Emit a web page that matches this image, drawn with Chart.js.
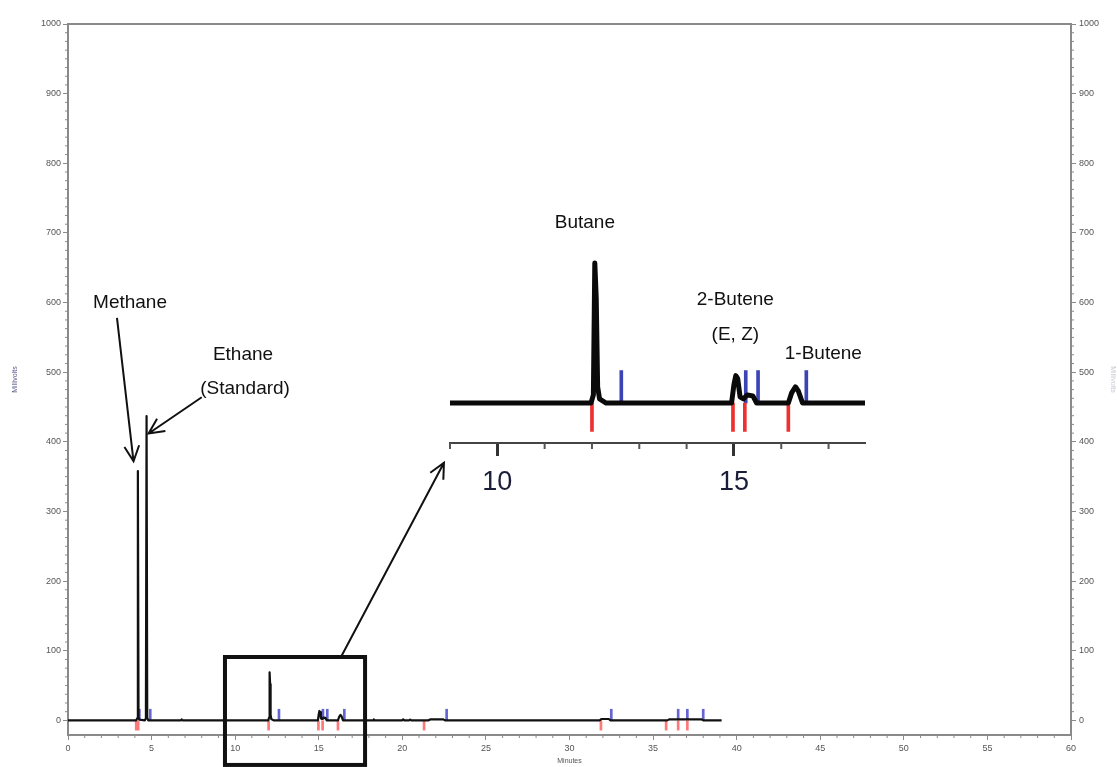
<!DOCTYPE html>
<html>
<head>
<meta charset="utf-8">
<title>Chromatogram</title>
<script src="https://cdn.jsdelivr.net/npm/chart.js@4.4.1/dist/chart.umd.min.js"></script>
<style>
  html, body { margin: 0; padding: 0; background: #fff; }
  #wrap { position: relative; width: 1117px; height: 767px; }
  #main { position: absolute; left: 0; top: 0; }
  #inset { position: absolute; left: 430px; top: 200px; }
</style>
</head>
<body>
<div id="wrap">
  <canvas id="main" width="1117" height="767"></canvas>
  <canvas id="inset" width="460" height="300"></canvas>
</div>
<script>
// signal trace (minutes, millivolts)
const traceMin = [0, 4.08, 4.14, 4.18, 4.22, 4.27, 4.6, 4.66, 4.7, 4.74, 4.8, 6.75, 6.8, 6.85,
  11.98, 12.03, 12.06, 12.09, 12.12, 12.16, 12.3, 14.95, 15.0, 15.04, 15.08, 15.13, 15.2, 15.28,
  15.4, 15.48, 16.15, 16.22, 16.3, 16.36, 16.45, 18.25, 18.3, 18.35, 19.98, 20.05, 20.12, 20.4,
  20.47, 20.54, 21.55, 21.7, 22.45, 22.55, 31.8, 31.92, 32.35, 32.45, 35.85, 35.98, 37.9, 38.0, 39.1];
const traceMv = [0, 0, 3, 358, 4, 1, 0, 3, 437, 4, 0, 0, 1.5, 0,
  0, 4, 69, 52, 8, 2, 0, 0, 9, 13.5, 12, 3, 2, 4,
  3.5, 0, 0, 5, 8, 6, 0, 0, 1.5, 0, 0, 1.5, 0, 0,
  1.2, 0, 0, 1.5, 1.5, 0, 0, 2, 2, 0, 0, 1.5, 1.5, 0, 0];

// integration event marks
const startMarks = [4.08, 4.2, 12.0, 14.98, 15.23, 16.15, 21.3, 31.88, 35.78, 36.5, 37.05];
const endMarks = [4.27, 4.92, 12.62, 15.25, 15.51, 16.53, 22.65, 32.5, 36.5, 37.05, 38.0];
const startDepth = [-14, 0];
const endHeight = [0, 16];

const xTicks = [0, 5, 10, 15, 20, 25, 30, 35, 40, 45, 50, 55, 60];
const yTicks = [0, 100, 200, 300, 400, 500, 600, 700, 800, 900, 1000];
const insetTicks = [10, 15];

const FONT = "'Liberation Sans', Arial, sans-serif";

const tracePts = traceMin.map((t, i) => ({x: t, y: traceMv[i]}));

function markSets(w, red, blue) {
  return [
    {type: 'bar', data: startMarks.map(t => ({x: t, y: startDepth})), backgroundColor: red,
     barThickness: w, grouped: false, order: 2},
    {type: 'bar', data: endMarks.map(t => ({x: t, y: endHeight})), backgroundColor: blue,
     barThickness: w, grouped: false, order: 2}
  ];
}

// small ticks between the labelled ones
const minorTicks = {
  id: 'minorTicks',
  afterDraw(chart, args, opts) {
    const ctx = chart.ctx;
    (opts.items || []).forEach(it => {
      const s = chart.scales[it.scale];
      ctx.save();
      ctx.strokeStyle = it.color;
      ctx.lineWidth = it.width;
      ctx.beginPath();
      it.values.forEach(v => {
        const p = s.getPixelForValue(v);
        if (s.isHorizontal()) { ctx.moveTo(p, s.top); ctx.lineTo(p, s.top + it.length); }
        else if (s.position === 'left') { ctx.moveTo(s.right, p); ctx.lineTo(s.right - it.length, p); }
        else { ctx.moveTo(s.left, p); ctx.lineTo(s.left + it.length, p); }
      });
      ctx.stroke();
      ctx.restore();
    });
  }
};

const frame = {
  id: 'frame',
  afterDraw(chart, args, opts) {
    if (!opts.color) return;
    const {ctx, chartArea: a} = chart;
    ctx.save();
    ctx.strokeStyle = opts.color;
    ctx.lineWidth = opts.width;
    ctx.beginPath();
    ctx.moveTo(a.left, a.top);
    ctx.lineTo(a.right, a.top);
    ctx.stroke();
    ctx.restore();
  }
};

// peak names, arrows and the zoom box
const notes = {
  id: 'notes',
  afterDatasetsDraw(chart, args, opts) {
    const ctx = chart.ctx;
    const X = v => chart.scales.x.getPixelForValue(v);
    const Y = v => chart.scales.y.getPixelForValue(v);
    ctx.save();
    ctx.fillStyle = '#111';
    ctx.strokeStyle = '#111';
    (opts.items || []).forEach(it => {
      if (it.text) {
        ctx.font = opts.font;
        ctx.textAlign = 'center';
        ctx.textBaseline = 'middle';
        ctx.fillText(it.text, X(it.x), Y(it.y));
      } else if (it.box) {
        ctx.lineWidth = 4;
        ctx.strokeRect(X(it.box[0]), Y(it.box[1]), X(it.box[2]) - X(it.box[0]), Y(it.box[3]) - Y(it.box[1]));
      } else if (it.arrow) {
        const x1 = X(it.arrow[0]), y1 = Y(it.arrow[1]), x2 = X(it.arrow[2]), y2 = Y(it.arrow[3]);
        const ang = Math.atan2(y2 - y1, x2 - x1), head = 17, spread = 0.45;
        ctx.lineWidth = 2;
        ctx.beginPath();
        ctx.moveTo(x1, y1);
        ctx.lineTo(x2, y2);
        ctx.moveTo(x2 - head * Math.cos(ang - spread), y2 - head * Math.sin(ang - spread));
        ctx.lineTo(x2, y2);
        ctx.lineTo(x2 - head * Math.cos(ang + spread), y2 - head * Math.sin(ang + spread));
        ctx.stroke();
      }
    });
    ctx.restore();
  }
};

const minorX = [], minorY = [];
for (let v = 1; v < 60; v++) if (v % 5) minorX.push(v);
for (let v = 12.5; v < 1000; v += 12.5) if (v % 100) minorY.push(v);

const axisGrey = '#8a8a8a';
const tickFont = {family: FONT, size: 9};

function yAxis(pos, w) {
  return {
    type: 'linear', position: pos, min: -21, max: 1000,
    afterBuildTicks: s => { s.ticks = yTicks.map(v => ({value: v})); },
    afterFit: s => { s.width = w; },
    ticks: {font: tickFont, color: '#555', padding: pos === 'left' ? 2 : 3, callback: v => String(v)},
    grid: {drawOnChartArea: false, tickLength: 5, color: axisGrey},
    border: {color: axisGrey, width: 2},
    title: {display: true, text: 'Millivolts', color: pos === 'left' ? '#5a5a88' : '#c8c8d4',
            font: {family: FONT, size: 7}, padding: {top: pos === 'left' ? 11 : 0, bottom: 0}}
  };
}

new Chart(document.getElementById('main'), {
  type: 'line',
  data: {
    datasets: [
      {data: tracePts, borderColor: '#111', borderWidth: 2.2, pointRadius: 0, tension: 0,
       borderJoinStyle: 'round', order: 1},
      ...markSets(2, '#ff7878', '#6464d2')
    ]
  },
  options: {
    responsive: false,
    animation: false,
    layout: {padding: {top: 24, left: 0, right: 0, bottom: 0}},
    scales: {
      x: {
        type: 'linear', position: 'bottom', min: 0, max: 60, offset: false,
        afterBuildTicks: s => { s.ticks = xTicks.map(v => ({value: v})); },
        afterFit: s => { s.height = 32; },
        ticks: {font: tickFont, color: '#555', padding: 3, maxRotation: 0, autoSkip: false,
                callback: v => String(v)},
        grid: {drawOnChartArea: false, offset: false, tickLength: 5, color: axisGrey},
        border: {color: axisGrey, width: 2},
        title: {display: true, text: 'Minutes', color: '#555', font: {family: FONT, size: 7},
                padding: {top: 0, bottom: 2}}
      },
      y: yAxis('left', 68),
      yR: yAxis('right', 46)
    },
    plugins: {
      legend: {display: false},
      tooltip: {enabled: false},
      frame: {color: axisGrey, width: 2},
      minorTicks: {items: [
        {scale: 'x', values: minorX, length: 3, width: 1, color: axisGrey},
        {scale: 'y', values: minorY, length: 3, width: 1, color: axisGrey},
        {scale: 'yR', values: minorY, length: 3, width: 1, color: axisGrey}
      ]},
      notes: {font: '19px ' + FONT, items: [
        {text: 'Methane', x: 3.71, y: 599},
        {arrow: [2.93, 578, 3.92, 372]},
        {text: 'Ethane', x: 10.47, y: 525},
        {text: '(Standard)', x: 10.59, y: 476},
        {arrow: [8.0, 464, 4.82, 412]},
        {box: [9.39, 91, 17.77, -64]},
        {arrow: [16.33, 91, 22.49, 370]}
      ]}
    }
  },
  plugins: [minorTicks, frame, notes]
});

// enlarged view of 9-18 min
new Chart(document.getElementById('inset'), {
  type: 'line',
  data: {
    datasets: [
      {data: tracePts, borderColor: '#0a0a0a', borderWidth: 5, pointRadius: 0, tension: 0,
       borderJoinStyle: 'round', borderCapStyle: 'round', order: 1},
      ...markSets(3, '#ee3030', '#3a44b4')
    ]
  },
  options: {
    responsive: false,
    animation: false,
    layout: {padding: {top: 50, left: 20, right: 25, bottom: 0}},
    scales: {
      x: {
        type: 'linear', position: 'bottom', min: 9, max: 17.77, offset: false,
        afterBuildTicks: s => { s.ticks = insetTicks.map(v => ({value: v})); },
        afterFit: s => { s.height = 57; },
        ticks: {font: {family: FONT, size: 27}, color: '#1a1e38', padding: 10, maxRotation: 0,
                autoSkip: false},
        grid: {drawOnChartArea: false, offset: false, tickLength: 13, tickWidth: 3, color: '#333'},
        border: {color: '#444', width: 2}
      },
      y: {type: 'linear', display: false, min: -19.7, max: 75.4}
    },
    plugins: {
      legend: {display: false},
      tooltip: {enabled: false},
      minorTicks: {items: [
        {scale: 'x', values: [9, 11, 12, 13, 14, 16, 17], length: 6, width: 2, color: '#555'}
      ]},
      notes: {font: '19px ' + FONT, items: [
        {text: 'Butane', x: 11.85, y: 89},
        {text: '2-Butene', x: 15.03, y: 50.7},
        {text: '(E, Z)', x: 15.03, y: 33.5},
        {text: '1-Butene', x: 16.89, y: 24.1}
      ]}
    }
  },
  plugins: [minorTicks, notes]
});
</script>
</body>
</html>
